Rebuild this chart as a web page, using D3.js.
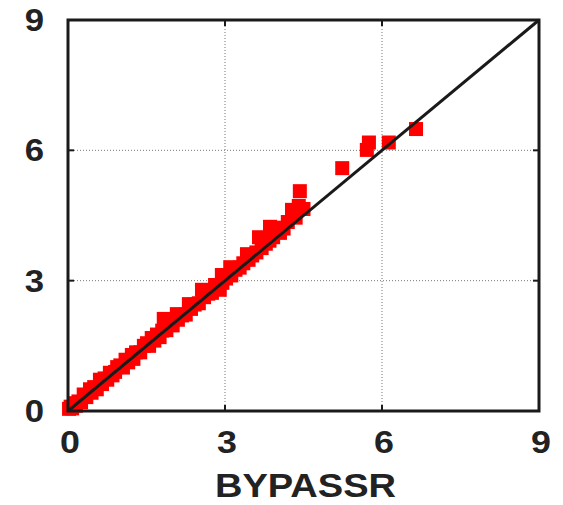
<!DOCTYPE html>
<html>
<head>
<meta charset="utf-8">
<script src="https://cdn.jsdelivr.net/npm/d3@7"></script>
<style>
  html, body { margin: 0; padding: 0; background: #fff; }
  svg { display: block; }
  text { font-family: "Liberation Sans", Arial, sans-serif; font-weight: bold; fill: #222; }
</style>
</head>
<body>
<script>
// Paired observations (x = BYPASSR, y = comparison value)
const xValues = [0.02,0.05,0.08,0.12,0.15,0.2,0.25,0.3,0.35,0.42,0.45,0.5,0.55,0.61,0.65,0.7,0.75,0.8,0.85,0.94,0.9,1.0,1.05,1.1,1.15,1.22,1.25,1.3,1.38,1.45,1.51,1.55,1.6,1.65,1.7,1.75,1.83,1.8,1.88,1.95,2.0,2.08,2.1,2.18,2.25,2.31,2.35,2.42,2.5,2.56,2.6,2.68,2.75,2.81,2.9,2.94,2.95,3.02,3.1,3.12,3.2,3.28,3.35,3.42,3.45,3.52,3.6,3.65,3.7,3.78,3.86,3.85,3.92,4.0,4.05,4.12,4.2,4.28,4.35,4.41,4.5,4.43,5.24,5.71,5.75,6.13,6.65];
const yValues = [0.05,0.1,0.06,0.18,0.12,0.22,0.2,0.38,0.32,0.5,0.42,0.55,0.5,0.72,0.62,0.75,0.72,0.88,0.82,1.01,0.9,1.05,1.0,1.18,1.12,1.29,1.2,1.35,1.35,1.5,1.56,1.5,1.68,1.62,1.76,1.7,2.12,1.85,1.86,2.0,1.97,2.23,2.1,2.2,2.22,2.46,2.35,2.45,2.48,2.79,2.62,2.7,2.72,2.9,2.79,3.13,2.95,3.05,3.31,3.12,3.25,3.3,3.4,3.61,3.48,3.58,3.65,4.0,3.75,3.85,4.24,3.92,4.0,4.22,4.1,4.2,4.35,4.63,4.45,4.72,4.65,5.06,5.59,6.01,6.18,6.18,6.49];
const tickValues = [0, 3, 6, 9];
const gridValues = [3, 6];
const xTitle = "BYPASSR";

const W = 563, H = 505;
const margin = { left: 68, right: 24, top: 20, bottom: 94 };
const x = d3.scaleLinear().domain([0, 9]).range([margin.left, W - margin.right]);
const y = d3.scaleLinear().domain([0, 9]).range([H - margin.bottom, margin.top]);

const svg = d3.select("body").append("svg").attr("width", W).attr("height", H);

// dotted grid
const grid = svg.append("g").attr("stroke", "#777").attr("stroke-width", 1).attr("stroke-dasharray", "1,2");
grid.selectAll(".gx").data(gridValues).join("line")
  .attr("x1", d => x(d)).attr("x2", d => x(d))
  .attr("y1", y(0)).attr("y2", y(9));
grid.selectAll(".gy").data(gridValues).join("line")
  .attr("y1", d => y(d)).attr("y2", d => y(d))
  .attr("x1", x(0)).attr("x2", x(9));

// points
const pts = xValues.map((v, i) => [v, yValues[i]]);
const s = 14;
svg.append("g").selectAll("rect").data(pts).join("rect")
  .attr("x", d => x(d[0]) - s / 2)
  .attr("y", d => y(d[1]) - s / 2)
  .attr("width", s).attr("height", 14)
  .attr("fill", "#ff0000");

// identity line
svg.append("line")
  .attr("x1", x(0)).attr("y1", y(0)).attr("x2", x(9)).attr("y2", y(9))
  .attr("stroke", "#1a1a1a").attr("stroke-width", 3);

// inward ticks on all four sides
const tk = svg.append("g").attr("stroke", "#1a1a1a").attr("stroke-width", 2);
tickValues.forEach(t => {
  tk.append("line").attr("x1", x(t)).attr("x2", x(t)).attr("y1", y(0)).attr("y2", y(0) - 6);
  tk.append("line").attr("x1", x(t)).attr("x2", x(t)).attr("y1", y(9)).attr("y2", y(9) + 6);
  tk.append("line").attr("y1", y(t)).attr("y2", y(t)).attr("x1", x(0)).attr("x2", x(0) + 6);
  tk.append("line").attr("y1", y(t)).attr("y2", y(t)).attr("x1", x(9)).attr("x2", x(9) - 6);
});

// frame
svg.append("rect")
  .attr("x", x(0)).attr("y", y(9))
  .attr("width", x(9) - x(0)).attr("height", y(0) - y(9))
  .attr("fill", "none").attr("stroke", "#1a1a1a").attr("stroke-width", 3);

// tick labels (slightly widened bold face)
svg.append("g").selectAll("text").data(tickValues).join("text")
  .attr("transform", d => `translate(${x(d) + 2},${y(0) + 42}) scale(1.12,1)`)
  .attr("text-anchor", "middle").attr("font-size", 32)
  .text(d => d);
svg.append("g").selectAll("text").data(tickValues).join("text")
  .attr("transform", d => `translate(44,${y(d) + 11}) scale(1.12,1)`)
  .attr("text-anchor", "end").attr("font-size", 31)
  .text(d => d);

// axis title
svg.append("text")
  .attr("transform", `translate(${(x(0) + x(9)) / 2 + 2},497) scale(1.12,1)`)
  .attr("text-anchor", "middle").attr("font-size", 34)
  .text(xTitle);
</script>
</body>
</html>
